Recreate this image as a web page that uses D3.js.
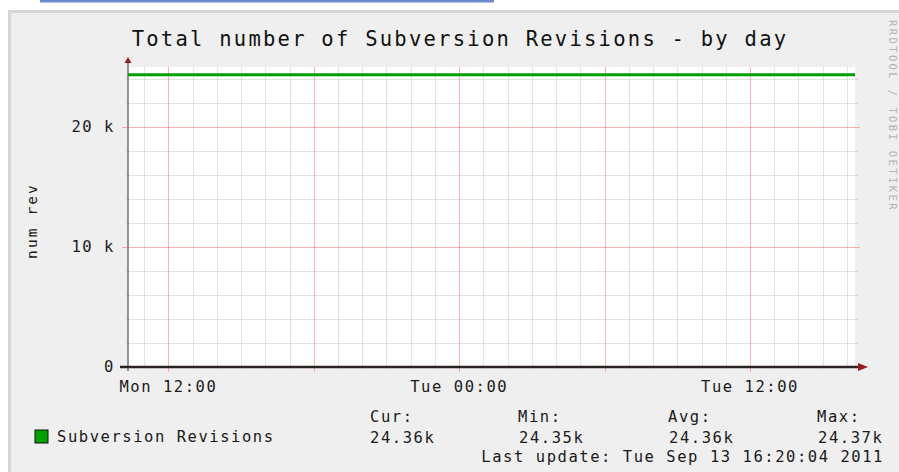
<!DOCTYPE html>
<html>
<head>
<meta charset="utf-8">
<script src="https://cdn.jsdelivr.net/npm/d3@7"></script>
<style>
  html, body { margin: 0; padding: 0; background: #fff; }
  svg { display: block; }
  text { font-family: "DejaVu Sans Mono", monospace; }
</style>
</head>
<body>
<div id="chart"></div>
<script>
// hourly samples, Mon 12 Sep 2011 10:20 -> Tue 13 Sep 2011 16:20
const startTime = Date.UTC(2011, 8, 12, 10, 20);
const endTime = Date.UTC(2011, 8, 13, 16, 20);
const revisions = [24352, 24352, 24353, 24353, 24354, 24354, 24355, 24355, 24356, 24356,
    24357, 24357, 24357, 24358, 24358, 24358, 24359, 24359, 24359, 24360,
    24360, 24360, 24361, 24361, 24362, 24362, 24363, 24363, 24364, 24364, 24364];
const yTicks = [0, 10000, 20000];
const yTickLabels = ['0', '10 k', '20 k'];
const statHeaders = ['Cur:', 'Min:', 'Avg:', 'Max:'];
const statValues = ['24.36k', '24.35k', '24.36k', '24.37k'];
const seriesName = 'Subversion Revisions';
const lastUpdate = 'Last update: Tue Sep 13 16:20:04 2011';

let size = { width: 899, height: 472 };
let plot = { left: 128, right: 855, top: 67, bottom: 367 };

let data = revisions.map((v, i) => ({ t: new Date(startTime + i * 3600e3), v: v }));

let svg = d3.select('#chart').append('svg')
    .attr('width', size.width)
    .attr('height', size.height)
    .attr('viewBox', [0, 0, size.width, size.height]);

// blue strip at top of page
svg.append('rect').attr('x', 40).attr('y', 0).attr('width', 454).attr('height', 2.5)
    .attr('fill', '#6a8ccc');

// rrdtool frame
svg.append('rect').attr('x', 9.5).attr('y', 11.5).attr('width', 900).attr('height', 470)
    .attr('fill', '#efefef').attr('stroke', '#d6d6d6').attr('stroke-width', 3);

let xScale = d3.scaleUtc()
    .domain([new Date(startTime), new Date(endTime)])
    .range([plot.left, plot.right]);

let yScale = d3.scaleLinear()
    .domain([0, 25000])
    .range([plot.bottom, plot.top]);

// canvas
svg.append('rect')
    .attr('x', plot.left).attr('y', plot.top)
    .attr('width', plot.right - plot.left).attr('height', plot.bottom - plot.top)
    .attr('fill', '#fff');

let grid = svg.append('g').attr('shape-rendering', 'crispEdges');

// minor grid
grid.selectAll('.hminor').data(d3.range(0, 25001, 2000).filter(v => v % 10000 !== 0))
  .join('line')
    .attr('x1', plot.left - 2).attr('x2', plot.right + 3)
    .attr('y1', d => Math.round(yScale(d)) + 0.5).attr('y2', d => Math.round(yScale(d)) + 0.5)
    .attr('stroke', 'rgba(128,128,128,0.22)');

grid.selectAll('.vminor').data(xScale.ticks(d3.utcHour.every(1)).filter(d => d.getUTCHours() % 6 !== 0))
  .join('line')
    .attr('x1', d => Math.round(xScale(d)) + 0.5).attr('x2', d => Math.round(xScale(d)) + 0.5)
    .attr('y1', plot.top).attr('y2', plot.bottom + 2)
    .attr('stroke', 'rgba(128,128,128,0.22)');

// major grid
grid.selectAll('.hmajor').data(yTicks)
  .join('line')
    .attr('x1', plot.left - 6).attr('x2', plot.right + 5)
    .attr('y1', d => Math.round(yScale(d)) + 0.5).attr('y2', d => Math.round(yScale(d)) + 0.5)
    .attr('stroke', 'rgba(255,0,0,0.3)');

grid.selectAll('.vmajor').data(xScale.ticks(d3.utcHour.every(6)))
  .join('line')
    .attr('x1', d => Math.round(xScale(d)) + 0.5).attr('x2', d => Math.round(xScale(d)) + 0.5)
    .attr('y1', plot.top).attr('y2', plot.bottom + 5)
    .attr('stroke', 'rgba(255,0,0,0.3)');

// y axis
svg.append('line')
    .attr('x1', plot.left).attr('x2', plot.left)
    .attr('y1', plot.top - 6).attr('y2', plot.bottom + 4)
    .attr('stroke', '#7a7a7a').attr('stroke-width', 1.6);
svg.append('path')
    .attr('d', `M${plot.left - 3.5},${plot.top - 4}L${plot.left},${plot.top - 10}L${plot.left + 3.5},${plot.top - 4}Z`)
    .attr('fill', '#9b1c1c');

const labelFont = 15.5, labelSpacing = 1.55;

// y tick labels
svg.selectAll('.ylabel').data(yTicks)
  .join('text')
    .attr('x', 115).attr('y', d => yScale(d) + 5)
    .attr('text-anchor', 'end')
    .attr('font-size', labelFont).attr('letter-spacing', labelSpacing)
    .attr('fill', '#1a1a1a')
    .text((d, i) => yTickLabels[i]);

// x tick labels
svg.selectAll('.xlabel').data(xScale.ticks(d3.utcHour.every(12)))
  .join('text')
    .attr('x', d => xScale(d)).attr('y', 392)
    .attr('text-anchor', 'middle')
    .attr('font-size', labelFont).attr('letter-spacing', labelSpacing)
    .attr('fill', '#1a1a1a')
    .text(d => d3.utcFormat('%a %H:%M')(d));

// y title
svg.append('text')
    .attr('transform', 'translate(37,221) rotate(-90)')
    .attr('text-anchor', 'middle')
    .attr('font-size', 14.5).attr('letter-spacing', 2.1)
    .attr('fill', '#1a1a1a')
    .text('num rev');

// title
svg.append('text')
    .attr('x', 460).attr('y', 46)
    .attr('text-anchor', 'middle')
    .attr('font-size', 20.5).attr('letter-spacing', 2.25)
    .attr('fill', '#111')
    .text('Total number of Subversion Revisions - by day');

// watermark
svg.append('text')
    .attr('transform', 'translate(889,20) rotate(90)')
    .attr('font-size', 10.5).attr('letter-spacing', 2.4)
    .attr('fill', '#b4b4b4')
    .text('RRDTOOL / TOBI OETIKER');

// series line
let line = d3.line()
    .curve(d3.curveStepAfter)
    .x(d => xScale(d.t))
    .y(d => yScale(d.v));

svg.append('path')
    .attr('d', line(data.concat([{ t: new Date(endTime), v: revisions[revisions.length - 1] }])))
    .attr('fill', 'none')
    .attr('stroke', '#00a000')
    .attr('stroke-width', 3);

// x axis
svg.append('line')
    .attr('x1', plot.left - 8).attr('x2', plot.right + 4)
    .attr('y1', plot.bottom).attr('y2', plot.bottom)
    .attr('stroke', '#2b2222').attr('stroke-width', 2.6);
svg.append('path')
    .attr('d', `M${plot.right + 3},${plot.bottom - 4}L${plot.right + 13},${plot.bottom}L${plot.right + 3},${plot.bottom + 4}Z`)
    .attr('fill', '#9b1c1c');

// legend
svg.append('rect')
    .attr('x', 35).attr('y', 430).attr('width', 13).attr('height', 13)
    .attr('fill', '#00a000').attr('stroke', '#111').attr('stroke-width', 1);
svg.append('text')
    .attr('x', 57).attr('y', 442)
    .attr('font-size', labelFont).attr('letter-spacing', labelSpacing)
    .attr('fill', '#1a1a1a')
    .text(seriesName);

let statX = [370, 518, 668, 817];
svg.selectAll('.stathead').data(statHeaders)
  .join('text')
    .attr('x', (d, i) => statX[i]).attr('y', 422)
    .attr('font-size', labelFont).attr('letter-spacing', labelSpacing)
    .attr('fill', '#1a1a1a')
    .text(d => d);
svg.selectAll('.statval').data(statValues)
  .join('text')
    .attr('x', (d, i) => statX[i] + (i === 0 ? 0 : 1)).attr('y', 443)
    .attr('font-size', labelFont).attr('letter-spacing', labelSpacing)
    .attr('fill', '#1a1a1a')
    .text(d => d);

svg.append('text')
    .attr('x', 884).attr('y', 462)
    .attr('text-anchor', 'end')
    .attr('font-size', labelFont).attr('letter-spacing', labelSpacing)
    .attr('fill', '#1a1a1a')
    .text(lastUpdate);
</script>
</body>
</html>
